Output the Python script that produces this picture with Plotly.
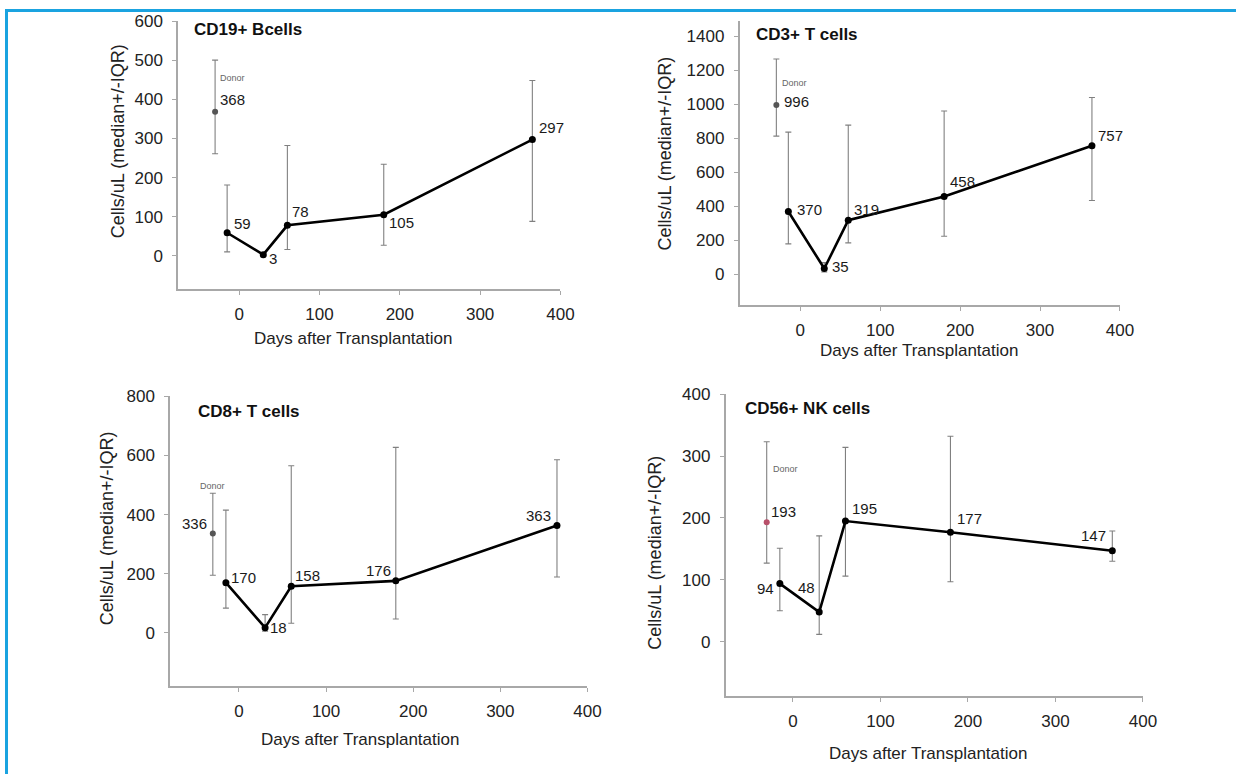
import plotly.graph_objects as go

# ---- data -------------------------------------------------------------
days = [-15, 30, 60, 180, 365]
donor_day = -30

cd19_median = [59, 3, 78, 105, 297]
cd19_upper = [181, 8, 282, 234, 448]
cd19_lower = [10, 0, 16, 27, 88]
cd19_donor = 368
cd19_donor_upper = 500
cd19_donor_lower = 261

cd3_median = [370, 35, 319, 458, 757]
cd3_upper = [837, 70, 878, 961, 1040]
cd3_lower = [180, 15, 186, 225, 435]
cd3_donor = 996
cd3_donor_upper = 1267
cd3_donor_lower = 813

cd8_median = [170, 18, 158, 176, 363]
cd8_upper = [415, 62, 565, 627, 585]
cd8_lower = [84, 6, 33, 47, 189]
cd8_donor = 336
cd8_donor_upper = 472
cd8_donor_lower = 195

cd56_median = [94, 48, 195, 177, 147]
cd56_upper = [151, 171, 314, 332, 179]
cd56_lower = [50, 12, 106, 97, 130]
cd56_donor = 193
cd56_donor_upper = 323
cd56_donor_lower = 127

panel_titles = ["CD19+ Bcells", "CD3+ T cells", "CD8+ T cells", "CD56+ NK cells"]
x_title = "Days after Transplantation"
y_title = "Cells/uL (median+/-IQR)"
donor_text = "Donor"
x_ticks = [0, 100, 200, 300, 400]
y_ticks = [
    [0, 100, 200, 300, 400, 500, 600],
    [0, 200, 400, 600, 800, 1000, 1200, 1400],
    [0, 200, 400, 600, 800],
    [0, 100, 200, 300, 400],
]

# ---- layout helpers ---------------------------------------------------
W, H = 1250, 774
# screen pixels -> figure pixels (page offset and slight zoom of the viewer)
ZOOM = 0.988
TOP = 8
FONT = "Liberation Sans, Arial, sans-serif"


def px_x(p):
    return (p / ZOOM) / W


def px_y(p):
    return 1 - ((p - TOP) / ZOOM) / H


# plot areas in screen pixels: (left, right, top, bottom) and axis ranges
panels = [
    dict(box=(178, 560, 20, 288), xr=[-76, 400], yr=[-85, 600],
         xt=(353, 337), yt=(118, 140), tt=(192, 28)),
    dict(box=(739, 1119, 20, 304), xr=[-76, 400], yr=[-180, 1490],
         xt=(918, 349), yt=(665, 153), tt=(753, 33)),
    dict(box=(170, 587, 395, 685), xr=[-79, 400], yr=[-180, 800],
         xt=(360, 738), yt=(107, 527), tt=(196, 410)),
    dict(box=(725, 1142, 393, 695), xr=[-77, 400], yr=[-88, 400],
         xt=(927, 752), yt=(655, 552), tt=(742, 407)),
]

series = [
    (cd19_median, cd19_upper, cd19_lower, cd19_donor, cd19_donor_upper, cd19_donor_lower),
    (cd3_median, cd3_upper, cd3_lower, cd3_donor, cd3_donor_upper, cd3_donor_lower),
    (cd8_median, cd8_upper, cd8_lower, cd8_donor, cd8_donor_upper, cd8_donor_lower),
    (cd56_median, cd56_upper, cd56_lower, cd56_donor, cd56_donor_upper, cd56_donor_lower),
]

donor_colors = ["#555555", "#555555", "#555555", "#b8506a"]

# value-label placement: (xanchor, xshift, yshift) for each median point
label_place = [
    [("left", 5, 9), ("left", 4, -4), ("left", 3, 14), ("left", 3, -8), ("left", 5, 12)],
    [("left", 7, 2), ("left", 6, 2), ("left", 4, 11), ("left", 4, 15), ("left", 4, 10)],
    [("left", 3, 5), ("left", 3, 0), ("left", 2, 11), ("right", -3, 10), ("right", -4, 10)],
    [("right", -4, -5), ("right", -2, 25), ("left", 5, 13), ("left", 5, 14), ("right", -4, 15)],
]
# donor value label and "Donor" caption placement
donor_place = [
    (("left", 3, 12), ("left", 3, 34)),
    (("left", 6, 4), ("left", 4, 22)),
    (("right", -4, 10), ("center", 0, 48)),
    (("left", 2, 11), ("left", 4, 53)),
]

fig = go.Figure()
annotations = []
LABEL_FONT = dict(family=FONT, size=15, color="#1a1a1a")

for i, (p, s) in enumerate(zip(panels, series)):
    med, up, lo, dv, du, dl = s
    sfx = "" if i == 0 else str(i + 1)
    xa, ya = "x" + sfx, "y" + sfx
    err_plus = [u - m for u, m in zip(up, med)]
    err_minus = [m - l for m, l in zip(med, lo)]

    # donor reference point
    fig.add_trace(go.Scatter(
        x=[donor_day], y=[dv], mode="markers", xaxis=xa, yaxis=ya,
        marker=dict(color=donor_colors[i], size=6),
        error_y=dict(type="data", array=[du - dv], arrayminus=[dv - dl],
                     color="#808080", thickness=1.1, width=3),
        showlegend=False, hoverinfo="x+y",
    ))
    # patient medians over time
    fig.add_trace(go.Scatter(
        x=days, y=med, mode="lines+markers", xaxis=xa, yaxis=ya,
        line=dict(color="black", width=2.6),
        marker=dict(color="black", size=7),
        error_y=dict(type="data", array=err_plus, arrayminus=err_minus,
                     color="#808080", thickness=1.1, width=3),
        showlegend=False, hoverinfo="x+y",
    ))

    l, r, t, b = p["box"]
    axis_common = dict(
        showline=True, linecolor="#a8a8a8", linewidth=1.5,
        ticks="outside", ticklen=4, tickcolor="#a8a8a8", tickwidth=1,
        showgrid=False, zeroline=False,
        tickfont=dict(family=FONT, size=17, color="#222222"),
    )
    fig.update_layout(**{
        "xaxis" + sfx: dict(domain=[px_x(l), px_x(r)], range=p["xr"],
                            tickvals=x_ticks, anchor=ya, ticklabelstandoff=5,
                            **axis_common),
        "yaxis" + sfx: dict(domain=[px_y(b), px_y(t)], range=p["yr"],
                            tickvals=y_ticks[i], anchor=xa, ticklabelstandoff=6,
                            **axis_common),
    })

    # value labels for medians
    for d, m, (anc, xs, ys) in zip(days, med, label_place[i]):
        annotations.append(dict(
            x=d, y=m, xref=xa, yref=ya, text=str(m), showarrow=False,
            xanchor=anc, yanchor="middle", xshift=xs, yshift=ys, font=LABEL_FONT,
        ))
    (va, vx, vy), (ca, cx, cy) = donor_place[i]
    annotations.append(dict(
        x=donor_day, y=dv, xref=xa, yref=ya, text=str(dv), showarrow=False,
        xanchor=va, yanchor="middle", xshift=vx, yshift=vy, font=LABEL_FONT,
    ))
    annotations.append(dict(
        x=donor_day, y=dv, xref=xa, yref=ya, text=donor_text, showarrow=False,
        xanchor=ca, yanchor="middle", xshift=cx, yshift=cy,
        font=dict(family=FONT, size=9, color="#666666"),
    ))

    # panel title and axis titles
    annotations.append(dict(
        x=px_x(p["tt"][0]), y=px_y(p["tt"][1]), xref="paper", yref="paper",
        text="<b>%s</b>" % panel_titles[i], showarrow=False,
        xanchor="left", yanchor="middle",
        font=dict(family=FONT, size=17, color="#111111"),
    ))
    annotations.append(dict(
        x=px_x(p["xt"][0]), y=px_y(p["xt"][1]), xref="paper", yref="paper",
        text=x_title, showarrow=False, xanchor="center", yanchor="middle",
        font=dict(family=FONT, size=17, color="#222222"),
    ))
    annotations.append(dict(
        x=px_x(p["yt"][0]), y=px_y(p["yt"][1]), xref="paper", yref="paper",
        text=y_title, showarrow=False, xanchor="center", yanchor="middle",
        textangle=-90, font=dict(family=FONT, size=18, color="#222222"),
    ))

# blue frame along the left and top edges
frame = [
    dict(type="line", xref="paper", yref="paper",
         x0=px_x(6.5), x1=px_x(6.5), y0=0, y1=1, line=dict(color="#1aa3e0", width=3)),
    dict(type="line", xref="paper", yref="paper",
         x0=px_x(5), x1=1, y0=1 - 1.5 / H, y1=1 - 1.5 / H,
         line=dict(color="#1aa3e0", width=3)),
]

fig.update_layout(
    width=W, height=H,
    margin=dict(l=0, r=0, t=0, b=0),
    paper_bgcolor="white", plot_bgcolor="white",
    annotations=annotations, shapes=frame,
    showlegend=False,
)

fig.write_html("out.html")
